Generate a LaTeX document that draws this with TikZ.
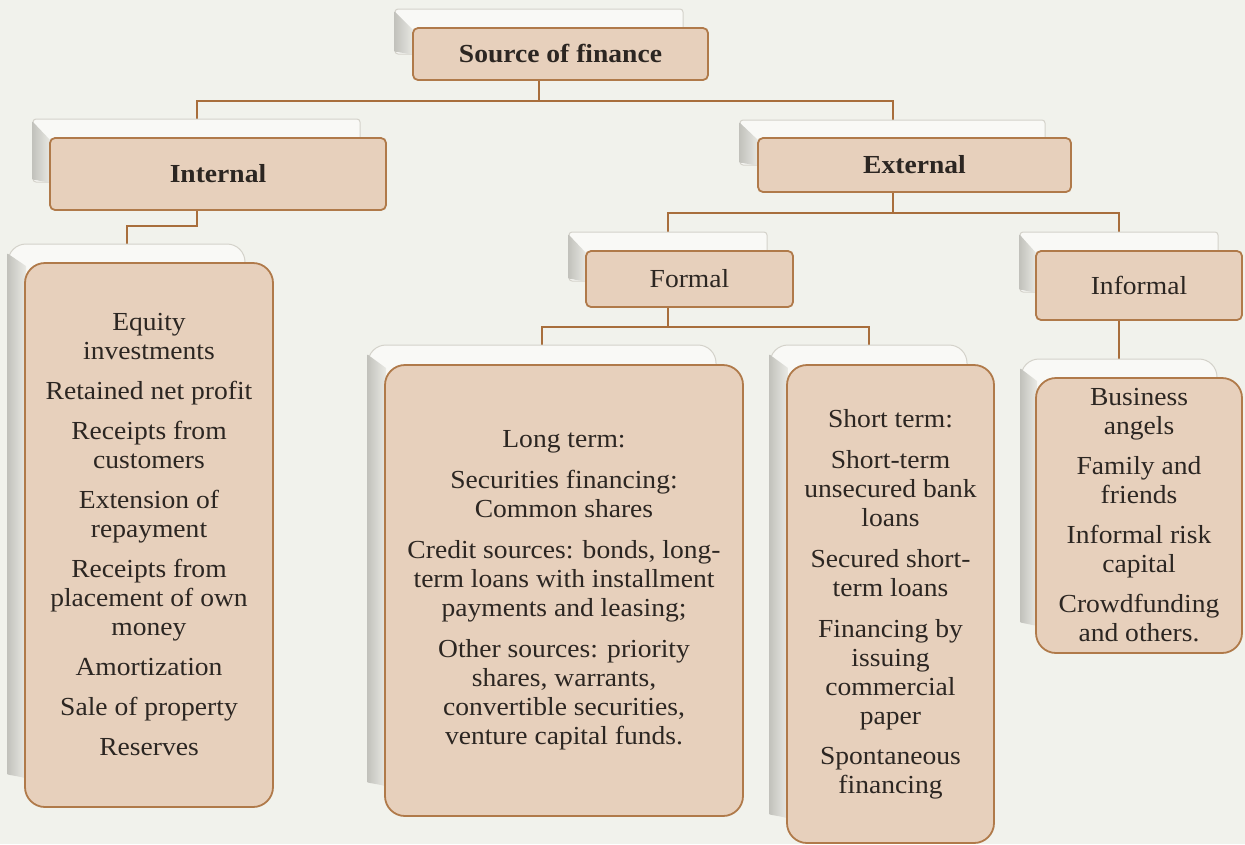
\documentclass[tikz,border=0pt]{standalone}
\usepackage{fontspec}
\setmainfont[FakeStretch=1.06]{Liberation Serif}
\usetikzlibrary{positioning}
\definecolor{bgc}{HTML}{F1F2EC}
\definecolor{boxfill}{HTML}{E7D0BC}
\definecolor{bord}{HTML}{B07A4A}
\definecolor{connc}{HTML}{A86E3C}
\definecolor{txt}{HTML}{2C2622}
\definecolor{shfill}{HTML}{F9F9F6}
\definecolor{shline}{HTML}{D4D2CA}
\definecolor{bevdark}{HTML}{C2C2BC}
\definecolor{bevlight}{HTML}{EAEAE5}
\pgfdeclarelayer{bglayer}
\pgfdeclarelayer{connlayer}
\pgfdeclarelayer{shadlayer}
\pgfsetlayers{bglayer,connlayer,shadlayer,main}
\tikzset{
  hdr/.style={rectangle, rounded corners=5pt, draw=bord, line width=1.8pt, fill=boxfill,
    text=txt, inner sep=0pt, font=\fontsize{26}{29}\selectfont, align=center},
  lst/.style={hdr, rounded corners=20pt},
  shad/.style={rectangle, rounded corners=3pt, draw=shline, line width=1pt, fill=shfill, inner sep=0pt},
  lshad/.style={shad, rounded corners=18pt},
  conn/.style={draw=connc, line width=2pt},
  bev/.style={left color=bevdark, right color=bevlight, draw=none}
}
\begin{document}
\begin{tikzpicture}[x=1pt,y=-1pt]
\useasboundingbox (0,0) rectangle (1245,844);
\begin{pgfonlayer}{bglayer}
\fill[bgc] (0,0) rectangle (1245,844);
\end{pgfonlayer}

% boxes
\node[hdr, minimum width=295pt, minimum height=52pt] (src) at (560.5,54) {\bfseries Source of finance};
\node[hdr, minimum width=336pt, minimum height=72pt] (int) at (218,174) {\bfseries Internal};
\node[hdr, minimum width=313pt, minimum height=54pt] (ext) at (914.5,165) {\bfseries External};
\node[hdr, minimum width=207pt, minimum height=56pt] (frm) at (689.5,279) {Formal};
\node[hdr, minimum width=206pt, minimum height=69pt] (inf) at (1139,285.5) {Informal};
\node[lst, minimum width=248pt, minimum height=544pt] (il) at (149,535)
  {Equity\\investments\\[11pt]Retained net profit\\[11pt]Receipts from\\customers\\[11pt]Extension of\\repayment\\[11pt]Receipts from\\placement of own\\money\\[11pt]Amortization\\[11pt]Sale of property\\[11pt]Reserves};
\node[lst, minimum width=358pt, minimum height=451pt] (lt) at (564,590.5)
  {Long term:\\[12pt]Securities financing:\\Common shares\\[12pt]Credit sources: bonds, long-\\term loans with installment\\payments and leasing;\\[12pt]Other sources: priority\\shares, warrants,\\convertible securities,\\venture capital funds.};
\node[lst, minimum width=207pt, minimum height=478pt] (st) at (890.5,604)
  {Short term:\\[12pt]Short-term\\unsecured bank\\loans\\[12pt]Secured short-\\term loans\\[12pt]Financing by\\issuing\\commercial\\paper\\[11pt]Spontaneous\\financing};
\node[lst, minimum width=206pt, minimum height=275pt] (iln) at (1139,515.5)
  {Business\\angels\\[11pt]Family and\\friends\\[11pt]Informal risk\\capital\\[11pt]Crowdfunding\\and others.};

% shadow panels
\begin{pgfonlayer}{shadlayer}
\node[shad, minimum width=288pt, minimum height=45pt] (srcS) at (539,31.5) {};
\node[shad, minimum width=327pt, minimum height=63pt] (intS) at (196.5,150.5) {};
\node[shad, minimum width=305pt, minimum height=45pt] (extS) at (892.5,142.5) {};
\node[shad, minimum width=198pt, minimum height=49pt] (frmS) at (668,256.5) {};
\node[shad, minimum width=198pt, minimum height=60pt] (infS) at (1119,262) {};
\node[lshad, minimum width=237pt, minimum height=533pt] (ilS) at (126.5,510.5) {};
\node[lshad, minimum width=348pt, minimum height=440pt] (ltS) at (542,565) {};
\node[lshad, minimum width=197pt, minimum height=472pt] (stS) at (868.5,581) {};
\node[lshad, minimum width=196pt, minimum height=266pt] (ilnS) at (1119,492) {};
\foreach \b/\s/\r in {src/srcS/3,int/intS/3,ext/extS/3,frm/frmS/3,inf/infS/3,il/ilS/10,lt/ltS/10,st/stS/10,iln/ilnS/10}{
  \shade[bev] ([yshift=-\r pt]\s.north west) -- ([xshift=2pt,yshift=-4pt]\b.north west) -- (\b.west |- \s.south) -- ([yshift=3pt]\s.south west) -- cycle;
}
\end{pgfonlayer}

% connectors
\begin{pgfonlayer}{connlayer}
\draw[conn] (srcS |- src.south) -- ++(0,20) coordinate (j1);
\draw[conn] (j1) -| (intS.north);
\draw[conn] (j1) -| (extS.north);
\draw[conn] (intS |- int.south) -- ++(0,15) -| (ilS.north);
\draw[conn] (extS |- ext.south) -- ++(0,20) coordinate (j2);
\draw[conn] (j2) -| (frmS.north);
\draw[conn] (j2) -| (infS.north);
\draw[conn] (frmS |- frm.south) -- ++(0,19) coordinate (j3);
\draw[conn] (j3) -| (ltS.north);
\draw[conn] (j3) -| (stS.north);
\draw[conn] (infS |- inf.south) -- (ilnS.north);
\end{pgfonlayer}
\end{tikzpicture}
\end{document}
